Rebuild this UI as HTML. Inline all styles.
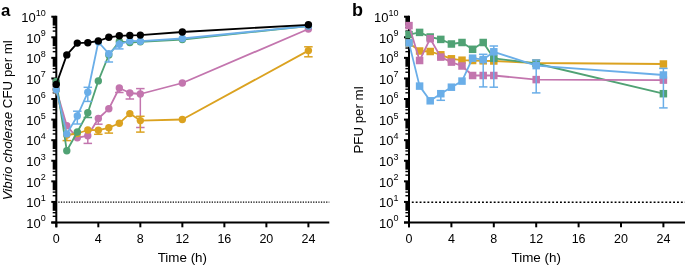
<!DOCTYPE html>
<html><head><meta charset="utf-8"><style>
html,body{margin:0;padding:0;background:#fff;width:685px;height:265px;overflow:hidden}
svg{display:block;filter:blur(0.35px)}
</style></head><body>
<svg width="685" height="265" viewBox="0 0 685 265" font-family='"Liberation Sans", sans-serif'>
<rect width="685" height="265" fill="#fff"/>
<line x1="56.3" y1="15.799999999999999" x2="56.3" y2="227.3" stroke="#000" stroke-width="2"/>
<line x1="51.3" y1="222.5" x2="329.3" y2="222.5" stroke="#000" stroke-width="2"/>
<line x1="51.3" y1="222.50" x2="56.3" y2="222.50" stroke="#000" stroke-width="2"/>
<line x1="52.699999999999996" y1="216.30" x2="56.3" y2="216.30" stroke="#000" stroke-width="1.4"/>
<line x1="52.699999999999996" y1="212.68" x2="56.3" y2="212.68" stroke="#000" stroke-width="1.4"/>
<rect x="52.70" y="202.16" width="3.6" height="8.65" fill="#000"/>
<line x1="51.3" y1="201.92" x2="56.3" y2="201.92" stroke="#000" stroke-width="2"/>
<line x1="52.699999999999996" y1="195.72" x2="56.3" y2="195.72" stroke="#000" stroke-width="1.4"/>
<line x1="52.699999999999996" y1="192.10" x2="56.3" y2="192.10" stroke="#000" stroke-width="1.4"/>
<rect x="52.70" y="181.58" width="3.6" height="8.65" fill="#000"/>
<line x1="51.3" y1="181.34" x2="56.3" y2="181.34" stroke="#000" stroke-width="2"/>
<line x1="52.699999999999996" y1="175.14" x2="56.3" y2="175.14" stroke="#000" stroke-width="1.4"/>
<line x1="52.699999999999996" y1="171.52" x2="56.3" y2="171.52" stroke="#000" stroke-width="1.4"/>
<rect x="52.70" y="161.00" width="3.6" height="8.65" fill="#000"/>
<line x1="51.3" y1="160.76" x2="56.3" y2="160.76" stroke="#000" stroke-width="2"/>
<line x1="52.699999999999996" y1="154.56" x2="56.3" y2="154.56" stroke="#000" stroke-width="1.4"/>
<line x1="52.699999999999996" y1="150.94" x2="56.3" y2="150.94" stroke="#000" stroke-width="1.4"/>
<rect x="52.70" y="140.42" width="3.6" height="8.65" fill="#000"/>
<line x1="51.3" y1="140.18" x2="56.3" y2="140.18" stroke="#000" stroke-width="2"/>
<line x1="52.699999999999996" y1="133.98" x2="56.3" y2="133.98" stroke="#000" stroke-width="1.4"/>
<line x1="52.699999999999996" y1="130.36" x2="56.3" y2="130.36" stroke="#000" stroke-width="1.4"/>
<rect x="52.70" y="119.84" width="3.6" height="8.65" fill="#000"/>
<line x1="51.3" y1="119.60" x2="56.3" y2="119.60" stroke="#000" stroke-width="2"/>
<line x1="52.699999999999996" y1="113.40" x2="56.3" y2="113.40" stroke="#000" stroke-width="1.4"/>
<line x1="52.699999999999996" y1="109.78" x2="56.3" y2="109.78" stroke="#000" stroke-width="1.4"/>
<rect x="52.70" y="99.26" width="3.6" height="8.65" fill="#000"/>
<line x1="51.3" y1="99.02" x2="56.3" y2="99.02" stroke="#000" stroke-width="2"/>
<line x1="52.699999999999996" y1="92.82" x2="56.3" y2="92.82" stroke="#000" stroke-width="1.4"/>
<line x1="52.699999999999996" y1="89.20" x2="56.3" y2="89.20" stroke="#000" stroke-width="1.4"/>
<rect x="52.70" y="78.68" width="3.6" height="8.65" fill="#000"/>
<line x1="51.3" y1="78.44" x2="56.3" y2="78.44" stroke="#000" stroke-width="2"/>
<line x1="52.699999999999996" y1="72.24" x2="56.3" y2="72.24" stroke="#000" stroke-width="1.4"/>
<line x1="52.699999999999996" y1="68.62" x2="56.3" y2="68.62" stroke="#000" stroke-width="1.4"/>
<rect x="52.70" y="58.10" width="3.6" height="8.65" fill="#000"/>
<line x1="51.3" y1="57.86" x2="56.3" y2="57.86" stroke="#000" stroke-width="2"/>
<line x1="52.699999999999996" y1="51.66" x2="56.3" y2="51.66" stroke="#000" stroke-width="1.4"/>
<line x1="52.699999999999996" y1="48.04" x2="56.3" y2="48.04" stroke="#000" stroke-width="1.4"/>
<rect x="52.70" y="37.52" width="3.6" height="8.65" fill="#000"/>
<line x1="51.3" y1="37.28" x2="56.3" y2="37.28" stroke="#000" stroke-width="2"/>
<line x1="52.699999999999996" y1="31.08" x2="56.3" y2="31.08" stroke="#000" stroke-width="1.4"/>
<line x1="52.699999999999996" y1="27.46" x2="56.3" y2="27.46" stroke="#000" stroke-width="1.4"/>
<rect x="52.70" y="16.94" width="3.6" height="8.65" fill="#000"/>
<line x1="51.3" y1="16.70" x2="56.3" y2="16.70" stroke="#000" stroke-width="2"/>
<line x1="56.30" y1="222.5" x2="56.30" y2="227.3" stroke="#000" stroke-width="2"/>
<text x="56.30" y="243.0" font-size="12.5" text-anchor="middle">0</text>
<line x1="98.32" y1="222.5" x2="98.32" y2="227.3" stroke="#000" stroke-width="2"/>
<text x="98.32" y="243.0" font-size="12.5" text-anchor="middle">4</text>
<line x1="140.33" y1="222.5" x2="140.33" y2="227.3" stroke="#000" stroke-width="2"/>
<text x="140.33" y="243.0" font-size="12.5" text-anchor="middle">8</text>
<line x1="182.35" y1="222.5" x2="182.35" y2="227.3" stroke="#000" stroke-width="2"/>
<text x="182.35" y="243.0" font-size="12.5" text-anchor="middle">12</text>
<line x1="224.37" y1="222.5" x2="224.37" y2="227.3" stroke="#000" stroke-width="2"/>
<text x="224.37" y="243.0" font-size="12.5" text-anchor="middle">16</text>
<line x1="266.38" y1="222.5" x2="266.38" y2="227.3" stroke="#000" stroke-width="2"/>
<text x="266.38" y="243.0" font-size="12.5" text-anchor="middle">20</text>
<line x1="308.40" y1="222.5" x2="308.40" y2="227.3" stroke="#000" stroke-width="2"/>
<text x="308.40" y="243.0" font-size="12.5" text-anchor="middle">24</text>
<text x="45.80" y="227.80" font-size="13" text-anchor="end">10<tspan font-size="9" dy="-6.4">0</tspan></text>
<text x="45.80" y="207.22" font-size="13" text-anchor="end">10<tspan font-size="9" dy="-6.4">1</tspan></text>
<text x="45.80" y="186.64" font-size="13" text-anchor="end">10<tspan font-size="9" dy="-6.4">2</tspan></text>
<text x="45.80" y="166.06" font-size="13" text-anchor="end">10<tspan font-size="9" dy="-6.4">3</tspan></text>
<text x="45.80" y="145.48" font-size="13" text-anchor="end">10<tspan font-size="9" dy="-6.4">4</tspan></text>
<text x="45.80" y="124.90" font-size="13" text-anchor="end">10<tspan font-size="9" dy="-6.4">5</tspan></text>
<text x="45.80" y="104.32" font-size="13" text-anchor="end">10<tspan font-size="9" dy="-6.4">6</tspan></text>
<text x="45.80" y="83.74" font-size="13" text-anchor="end">10<tspan font-size="9" dy="-6.4">7</tspan></text>
<text x="45.80" y="63.16" font-size="13" text-anchor="end">10<tspan font-size="9" dy="-6.4">8</tspan></text>
<text x="45.80" y="42.58" font-size="13" text-anchor="end">10<tspan font-size="9" dy="-6.4">9</tspan></text>
<text x="45.80" y="22.00" font-size="13" text-anchor="end">10<tspan font-size="9" dy="-6.4">10</tspan></text>
<line x1="58.3" y1="202.22" x2="329.3" y2="202.22" stroke="#000" stroke-width="1.2" stroke-dasharray="1.3 1.3"/>
<text x="182.35" y="261.5" font-size="13.4" text-anchor="middle">Time (h)</text>
<line x1="409.0" y1="15.799999999999999" x2="409.0" y2="227.3" stroke="#000" stroke-width="2"/>
<line x1="404.0" y1="222.5" x2="685" y2="222.5" stroke="#000" stroke-width="2"/>
<line x1="404.0" y1="222.50" x2="409.0" y2="222.50" stroke="#000" stroke-width="2"/>
<line x1="405.4" y1="216.30" x2="409.0" y2="216.30" stroke="#000" stroke-width="1.4"/>
<line x1="405.4" y1="212.68" x2="409.0" y2="212.68" stroke="#000" stroke-width="1.4"/>
<rect x="405.40" y="202.16" width="3.6" height="8.65" fill="#000"/>
<line x1="404.0" y1="201.92" x2="409.0" y2="201.92" stroke="#000" stroke-width="2"/>
<line x1="405.4" y1="195.72" x2="409.0" y2="195.72" stroke="#000" stroke-width="1.4"/>
<line x1="405.4" y1="192.10" x2="409.0" y2="192.10" stroke="#000" stroke-width="1.4"/>
<rect x="405.40" y="181.58" width="3.6" height="8.65" fill="#000"/>
<line x1="404.0" y1="181.34" x2="409.0" y2="181.34" stroke="#000" stroke-width="2"/>
<line x1="405.4" y1="175.14" x2="409.0" y2="175.14" stroke="#000" stroke-width="1.4"/>
<line x1="405.4" y1="171.52" x2="409.0" y2="171.52" stroke="#000" stroke-width="1.4"/>
<rect x="405.40" y="161.00" width="3.6" height="8.65" fill="#000"/>
<line x1="404.0" y1="160.76" x2="409.0" y2="160.76" stroke="#000" stroke-width="2"/>
<line x1="405.4" y1="154.56" x2="409.0" y2="154.56" stroke="#000" stroke-width="1.4"/>
<line x1="405.4" y1="150.94" x2="409.0" y2="150.94" stroke="#000" stroke-width="1.4"/>
<rect x="405.40" y="140.42" width="3.6" height="8.65" fill="#000"/>
<line x1="404.0" y1="140.18" x2="409.0" y2="140.18" stroke="#000" stroke-width="2"/>
<line x1="405.4" y1="133.98" x2="409.0" y2="133.98" stroke="#000" stroke-width="1.4"/>
<line x1="405.4" y1="130.36" x2="409.0" y2="130.36" stroke="#000" stroke-width="1.4"/>
<rect x="405.40" y="119.84" width="3.6" height="8.65" fill="#000"/>
<line x1="404.0" y1="119.60" x2="409.0" y2="119.60" stroke="#000" stroke-width="2"/>
<line x1="405.4" y1="113.40" x2="409.0" y2="113.40" stroke="#000" stroke-width="1.4"/>
<line x1="405.4" y1="109.78" x2="409.0" y2="109.78" stroke="#000" stroke-width="1.4"/>
<rect x="405.40" y="99.26" width="3.6" height="8.65" fill="#000"/>
<line x1="404.0" y1="99.02" x2="409.0" y2="99.02" stroke="#000" stroke-width="2"/>
<line x1="405.4" y1="92.82" x2="409.0" y2="92.82" stroke="#000" stroke-width="1.4"/>
<line x1="405.4" y1="89.20" x2="409.0" y2="89.20" stroke="#000" stroke-width="1.4"/>
<rect x="405.40" y="78.68" width="3.6" height="8.65" fill="#000"/>
<line x1="404.0" y1="78.44" x2="409.0" y2="78.44" stroke="#000" stroke-width="2"/>
<line x1="405.4" y1="72.24" x2="409.0" y2="72.24" stroke="#000" stroke-width="1.4"/>
<line x1="405.4" y1="68.62" x2="409.0" y2="68.62" stroke="#000" stroke-width="1.4"/>
<rect x="405.40" y="58.10" width="3.6" height="8.65" fill="#000"/>
<line x1="404.0" y1="57.86" x2="409.0" y2="57.86" stroke="#000" stroke-width="2"/>
<line x1="405.4" y1="51.66" x2="409.0" y2="51.66" stroke="#000" stroke-width="1.4"/>
<line x1="405.4" y1="48.04" x2="409.0" y2="48.04" stroke="#000" stroke-width="1.4"/>
<rect x="405.40" y="37.52" width="3.6" height="8.65" fill="#000"/>
<line x1="404.0" y1="37.28" x2="409.0" y2="37.28" stroke="#000" stroke-width="2"/>
<line x1="405.4" y1="31.08" x2="409.0" y2="31.08" stroke="#000" stroke-width="1.4"/>
<line x1="405.4" y1="27.46" x2="409.0" y2="27.46" stroke="#000" stroke-width="1.4"/>
<rect x="405.40" y="16.94" width="3.6" height="8.65" fill="#000"/>
<line x1="404.0" y1="16.70" x2="409.0" y2="16.70" stroke="#000" stroke-width="2"/>
<line x1="409.00" y1="222.5" x2="409.00" y2="227.3" stroke="#000" stroke-width="2"/>
<text x="409.00" y="243.0" font-size="12.5" text-anchor="middle">0</text>
<line x1="451.40" y1="222.5" x2="451.40" y2="227.3" stroke="#000" stroke-width="2"/>
<text x="451.40" y="243.0" font-size="12.5" text-anchor="middle">4</text>
<line x1="493.80" y1="222.5" x2="493.80" y2="227.3" stroke="#000" stroke-width="2"/>
<text x="493.80" y="243.0" font-size="12.5" text-anchor="middle">8</text>
<line x1="536.20" y1="222.5" x2="536.20" y2="227.3" stroke="#000" stroke-width="2"/>
<text x="536.20" y="243.0" font-size="12.5" text-anchor="middle">12</text>
<line x1="578.60" y1="222.5" x2="578.60" y2="227.3" stroke="#000" stroke-width="2"/>
<text x="578.60" y="243.0" font-size="12.5" text-anchor="middle">16</text>
<line x1="621.00" y1="222.5" x2="621.00" y2="227.3" stroke="#000" stroke-width="2"/>
<text x="621.00" y="243.0" font-size="12.5" text-anchor="middle">20</text>
<line x1="663.40" y1="222.5" x2="663.40" y2="227.3" stroke="#000" stroke-width="2"/>
<text x="663.40" y="243.0" font-size="12.5" text-anchor="middle">24</text>
<text x="398.50" y="227.80" font-size="13" text-anchor="end">10<tspan font-size="9" dy="-6.4">0</tspan></text>
<text x="398.50" y="207.22" font-size="13" text-anchor="end">10<tspan font-size="9" dy="-6.4">1</tspan></text>
<text x="398.50" y="186.64" font-size="13" text-anchor="end">10<tspan font-size="9" dy="-6.4">2</tspan></text>
<text x="398.50" y="166.06" font-size="13" text-anchor="end">10<tspan font-size="9" dy="-6.4">3</tspan></text>
<text x="398.50" y="145.48" font-size="13" text-anchor="end">10<tspan font-size="9" dy="-6.4">4</tspan></text>
<text x="398.50" y="124.90" font-size="13" text-anchor="end">10<tspan font-size="9" dy="-6.4">5</tspan></text>
<text x="398.50" y="104.32" font-size="13" text-anchor="end">10<tspan font-size="9" dy="-6.4">6</tspan></text>
<text x="398.50" y="83.74" font-size="13" text-anchor="end">10<tspan font-size="9" dy="-6.4">7</tspan></text>
<text x="398.50" y="63.16" font-size="13" text-anchor="end">10<tspan font-size="9" dy="-6.4">8</tspan></text>
<text x="398.50" y="42.58" font-size="13" text-anchor="end">10<tspan font-size="9" dy="-6.4">9</tspan></text>
<text x="398.50" y="22.00" font-size="13" text-anchor="end">10<tspan font-size="9" dy="-6.4">10</tspan></text>
<line x1="411.8" y1="202.32" x2="685" y2="202.32" stroke="#000" stroke-width="1.6" stroke-dasharray="1.9 2.0"/>
<text x="536.20" y="261.5" font-size="13.4" text-anchor="middle">Time (h)</text>
<text x="0.9" y="16.0" font-size="16.8" font-weight="bold">a</text>
<text x="352.0" y="16.1" font-size="18" font-weight="bold">b</text>
<text transform="translate(12.0,200.3) rotate(-90)" font-size="13.3"><tspan font-style="italic">Vibrio cholerae</tspan> CFU per ml</text>
<text transform="translate(363.4,153.6) rotate(-90)" font-size="13.3">PFU per ml</text>
<line x1="87.81" y1="135.70" x2="87.81" y2="143.40" stroke="#C375AE" stroke-width="1.5"/>
<line x1="83.56" y1="143.40" x2="92.06" y2="143.40" stroke="#C375AE" stroke-width="1.5"/>
<line x1="98.32" y1="118.50" x2="98.32" y2="124.20" stroke="#C375AE" stroke-width="1.5"/>
<line x1="94.07" y1="124.20" x2="102.57" y2="124.20" stroke="#C375AE" stroke-width="1.5"/>
<line x1="119.32" y1="88.00" x2="119.32" y2="92.50" stroke="#C375AE" stroke-width="1.5"/>
<line x1="115.07" y1="92.50" x2="123.57" y2="92.50" stroke="#C375AE" stroke-width="1.5"/>
<line x1="129.83" y1="93.00" x2="129.83" y2="99.00" stroke="#C375AE" stroke-width="1.5"/>
<line x1="125.58" y1="99.00" x2="134.08" y2="99.00" stroke="#C375AE" stroke-width="1.5"/>
<line x1="140.33" y1="88.60" x2="140.33" y2="127.50" stroke="#C375AE" stroke-width="1.5"/>
<line x1="136.08" y1="88.60" x2="144.58" y2="88.60" stroke="#C375AE" stroke-width="1.5"/>
<line x1="136.08" y1="127.50" x2="144.58" y2="127.50" stroke="#C375AE" stroke-width="1.5"/>
<polyline points="56.30,89.80 66.80,125.80 77.31,137.80 87.81,135.70 98.32,118.50 108.82,108.80 119.32,88.00 129.83,93.00 140.33,94.00 182.35,83.00 308.40,29.00" fill="none" stroke="#C375AE" stroke-width="1.8" stroke-linejoin="round"/>
<circle cx="56.30" cy="89.80" r="3.7" fill="#C375AE"/>
<circle cx="66.80" cy="125.80" r="3.7" fill="#C375AE"/>
<circle cx="77.31" cy="137.80" r="3.7" fill="#C375AE"/>
<circle cx="87.81" cy="135.70" r="3.7" fill="#C375AE"/>
<circle cx="98.32" cy="118.50" r="3.7" fill="#C375AE"/>
<circle cx="108.82" cy="108.80" r="3.7" fill="#C375AE"/>
<circle cx="119.32" cy="88.00" r="3.7" fill="#C375AE"/>
<circle cx="129.83" cy="93.00" r="3.7" fill="#C375AE"/>
<circle cx="140.33" cy="94.00" r="3.7" fill="#C375AE"/>
<circle cx="182.35" cy="83.00" r="3.7" fill="#C375AE"/>
<circle cx="308.40" cy="29.00" r="3.7" fill="#C375AE"/>
<line x1="66.80" y1="133.60" x2="66.80" y2="140.60" stroke="#DBA220" stroke-width="1.5"/>
<line x1="62.55" y1="140.60" x2="71.05" y2="140.60" stroke="#DBA220" stroke-width="1.5"/>
<line x1="98.32" y1="130.00" x2="98.32" y2="134.30" stroke="#DBA220" stroke-width="1.5"/>
<line x1="94.07" y1="134.30" x2="102.57" y2="134.30" stroke="#DBA220" stroke-width="1.5"/>
<line x1="108.82" y1="127.50" x2="108.82" y2="133.10" stroke="#DBA220" stroke-width="1.5"/>
<line x1="104.57" y1="133.10" x2="113.07" y2="133.10" stroke="#DBA220" stroke-width="1.5"/>
<line x1="140.33" y1="116.30" x2="140.33" y2="132.10" stroke="#DBA220" stroke-width="1.5"/>
<line x1="136.08" y1="116.30" x2="144.58" y2="116.30" stroke="#DBA220" stroke-width="1.5"/>
<line x1="136.08" y1="132.10" x2="144.58" y2="132.10" stroke="#DBA220" stroke-width="1.5"/>
<line x1="308.40" y1="46.80" x2="308.40" y2="56.80" stroke="#DBA220" stroke-width="1.5"/>
<line x1="304.15" y1="46.80" x2="312.65" y2="46.80" stroke="#DBA220" stroke-width="1.5"/>
<line x1="304.15" y1="56.80" x2="312.65" y2="56.80" stroke="#DBA220" stroke-width="1.5"/>
<polyline points="56.30,89.80 66.80,135.00 77.31,133.50 87.81,130.00 98.32,130.20 108.82,127.80 119.32,123.20 129.83,113.60 140.33,120.60 182.35,119.50 308.40,50.60" fill="none" stroke="#DBA220" stroke-width="1.8" stroke-linejoin="round"/>
<circle cx="56.30" cy="89.80" r="3.7" fill="#DBA220"/>
<circle cx="66.80" cy="135.00" r="3.7" fill="#DBA220"/>
<circle cx="77.31" cy="133.50" r="3.7" fill="#DBA220"/>
<circle cx="87.81" cy="130.00" r="3.7" fill="#DBA220"/>
<circle cx="98.32" cy="130.20" r="3.7" fill="#DBA220"/>
<circle cx="108.82" cy="127.80" r="3.7" fill="#DBA220"/>
<circle cx="119.32" cy="123.20" r="3.7" fill="#DBA220"/>
<circle cx="129.83" cy="113.60" r="3.7" fill="#DBA220"/>
<circle cx="140.33" cy="120.60" r="3.7" fill="#DBA220"/>
<circle cx="182.35" cy="119.50" r="3.7" fill="#DBA220"/>
<circle cx="308.40" cy="50.60" r="3.7" fill="#DBA220"/>
<line x1="87.81" y1="112.70" x2="87.81" y2="117.50" stroke="#50A274" stroke-width="1.5"/>
<line x1="83.56" y1="117.50" x2="92.06" y2="117.50" stroke="#50A274" stroke-width="1.5"/>
<polyline points="56.30,81.50 66.80,150.80 77.31,132.00 87.81,112.70 98.32,80.90 108.82,55.00 119.32,41.50 129.83,42.50 140.33,41.80 182.35,39.50 308.40,26.00" fill="none" stroke="#50A274" stroke-width="1.8" stroke-linejoin="round"/>
<circle cx="56.30" cy="81.50" r="3.7" fill="#50A274"/>
<circle cx="66.80" cy="150.80" r="3.7" fill="#50A274"/>
<circle cx="77.31" cy="132.00" r="3.7" fill="#50A274"/>
<circle cx="87.81" cy="112.70" r="3.7" fill="#50A274"/>
<circle cx="98.32" cy="80.90" r="3.7" fill="#50A274"/>
<circle cx="108.82" cy="55.00" r="3.7" fill="#50A274"/>
<circle cx="119.32" cy="41.50" r="3.7" fill="#50A274"/>
<circle cx="129.83" cy="42.50" r="3.7" fill="#50A274"/>
<circle cx="140.33" cy="41.80" r="3.7" fill="#50A274"/>
<circle cx="182.35" cy="39.50" r="3.7" fill="#50A274"/>
<circle cx="308.40" cy="26.00" r="3.7" fill="#50A274"/>
<line x1="77.31" y1="111.20" x2="77.31" y2="124.00" stroke="#6AAEE8" stroke-width="1.5"/>
<line x1="73.06" y1="111.20" x2="81.56" y2="111.20" stroke="#6AAEE8" stroke-width="1.5"/>
<line x1="73.06" y1="124.00" x2="81.56" y2="124.00" stroke="#6AAEE8" stroke-width="1.5"/>
<line x1="87.81" y1="87.30" x2="87.81" y2="101.40" stroke="#6AAEE8" stroke-width="1.5"/>
<line x1="83.56" y1="87.30" x2="92.06" y2="87.30" stroke="#6AAEE8" stroke-width="1.5"/>
<line x1="83.56" y1="101.40" x2="92.06" y2="101.40" stroke="#6AAEE8" stroke-width="1.5"/>
<line x1="108.82" y1="53.70" x2="108.82" y2="62.00" stroke="#6AAEE8" stroke-width="1.5"/>
<line x1="104.57" y1="62.00" x2="113.07" y2="62.00" stroke="#6AAEE8" stroke-width="1.5"/>
<line x1="119.32" y1="40.00" x2="119.32" y2="48.90" stroke="#6AAEE8" stroke-width="1.5"/>
<line x1="115.07" y1="48.90" x2="123.57" y2="48.90" stroke="#6AAEE8" stroke-width="1.5"/>
<polyline points="56.30,89.80 66.80,133.90 77.31,116.00 87.81,92.30 98.32,42.00 108.82,53.70 119.32,44.20 129.83,41.00 140.33,41.20 182.35,38.50 308.40,26.00" fill="none" stroke="#6AAEE8" stroke-width="1.8" stroke-linejoin="round"/>
<circle cx="56.30" cy="89.80" r="3.7" fill="#6AAEE8"/>
<circle cx="66.80" cy="133.90" r="3.7" fill="#6AAEE8"/>
<circle cx="77.31" cy="116.00" r="3.7" fill="#6AAEE8"/>
<circle cx="87.81" cy="92.30" r="3.7" fill="#6AAEE8"/>
<circle cx="98.32" cy="42.00" r="3.7" fill="#6AAEE8"/>
<circle cx="108.82" cy="53.70" r="3.7" fill="#6AAEE8"/>
<circle cx="119.32" cy="44.20" r="3.7" fill="#6AAEE8"/>
<circle cx="129.83" cy="41.00" r="3.7" fill="#6AAEE8"/>
<circle cx="140.33" cy="41.20" r="3.7" fill="#6AAEE8"/>
<circle cx="182.35" cy="38.50" r="3.7" fill="#6AAEE8"/>
<circle cx="308.40" cy="26.00" r="3.7" fill="#6AAEE8"/>
<polyline points="56.30,84.40 66.80,54.90 77.31,43.10 87.81,42.70 98.32,41.00 108.82,37.30 119.32,35.80 129.83,35.40 140.33,35.10 182.35,32.00 308.40,24.80" fill="none" stroke="#000000" stroke-width="1.8" stroke-linejoin="round"/>
<circle cx="56.30" cy="84.40" r="3.7" fill="#000000"/>
<circle cx="66.80" cy="54.90" r="3.7" fill="#000000"/>
<circle cx="77.31" cy="43.10" r="3.7" fill="#000000"/>
<circle cx="87.81" cy="42.70" r="3.7" fill="#000000"/>
<circle cx="98.32" cy="41.00" r="3.7" fill="#000000"/>
<circle cx="108.82" cy="37.30" r="3.7" fill="#000000"/>
<circle cx="119.32" cy="35.80" r="3.7" fill="#000000"/>
<circle cx="129.83" cy="35.40" r="3.7" fill="#000000"/>
<circle cx="140.33" cy="35.10" r="3.7" fill="#000000"/>
<circle cx="182.35" cy="32.00" r="3.7" fill="#000000"/>
<circle cx="308.40" cy="24.80" r="3.7" fill="#000000"/>
<polyline points="409.00,43.00 419.60,51.00 430.20,51.50 440.80,54.80 451.40,58.80 462.00,60.20 472.60,60.50 483.20,60.80 493.80,61.00 536.20,63.00 663.40,64.00" fill="none" stroke="#DBA220" stroke-width="1.8" stroke-linejoin="round"/>
<rect x="405.25" y="39.25" width="7.5" height="7.5" fill="#DBA220"/>
<rect x="415.85" y="47.25" width="7.5" height="7.5" fill="#DBA220"/>
<rect x="426.45" y="47.75" width="7.5" height="7.5" fill="#DBA220"/>
<rect x="437.05" y="51.05" width="7.5" height="7.5" fill="#DBA220"/>
<rect x="447.65" y="55.05" width="7.5" height="7.5" fill="#DBA220"/>
<rect x="458.25" y="56.45" width="7.5" height="7.5" fill="#DBA220"/>
<rect x="468.85" y="56.75" width="7.5" height="7.5" fill="#DBA220"/>
<rect x="479.45" y="57.05" width="7.5" height="7.5" fill="#DBA220"/>
<rect x="490.05" y="57.25" width="7.5" height="7.5" fill="#DBA220"/>
<rect x="532.45" y="59.25" width="7.5" height="7.5" fill="#DBA220"/>
<rect x="659.65" y="60.25" width="7.5" height="7.5" fill="#DBA220"/>
<polyline points="409.00,34.60 419.60,32.40 430.20,37.00 440.80,39.40 451.40,44.00 462.00,42.50 472.60,49.30 483.20,42.50 493.80,58.30 536.20,63.50 663.40,93.70" fill="none" stroke="#50A274" stroke-width="1.8" stroke-linejoin="round"/>
<rect x="405.25" y="30.85" width="7.5" height="7.5" fill="#50A274"/>
<rect x="415.85" y="28.65" width="7.5" height="7.5" fill="#50A274"/>
<rect x="426.45" y="33.25" width="7.5" height="7.5" fill="#50A274"/>
<rect x="437.05" y="35.65" width="7.5" height="7.5" fill="#50A274"/>
<rect x="447.65" y="40.25" width="7.5" height="7.5" fill="#50A274"/>
<rect x="458.25" y="38.75" width="7.5" height="7.5" fill="#50A274"/>
<rect x="468.85" y="45.55" width="7.5" height="7.5" fill="#50A274"/>
<rect x="479.45" y="38.75" width="7.5" height="7.5" fill="#50A274"/>
<rect x="490.05" y="54.55" width="7.5" height="7.5" fill="#50A274"/>
<rect x="532.45" y="59.75" width="7.5" height="7.5" fill="#50A274"/>
<rect x="659.65" y="89.95" width="7.5" height="7.5" fill="#50A274"/>
<polyline points="409.00,25.60 419.60,60.50 430.20,38.70 440.80,57.10 451.40,62.10 462.00,66.00 472.60,75.50 483.20,75.50 493.80,75.50 536.20,79.60 663.40,80.10" fill="none" stroke="#C375AE" stroke-width="1.8" stroke-linejoin="round"/>
<rect x="405.25" y="21.85" width="7.5" height="7.5" fill="#C375AE"/>
<rect x="415.85" y="56.75" width="7.5" height="7.5" fill="#C375AE"/>
<rect x="426.45" y="34.95" width="7.5" height="7.5" fill="#C375AE"/>
<rect x="437.05" y="53.35" width="7.5" height="7.5" fill="#C375AE"/>
<rect x="447.65" y="58.35" width="7.5" height="7.5" fill="#C375AE"/>
<rect x="458.25" y="62.25" width="7.5" height="7.5" fill="#C375AE"/>
<rect x="468.85" y="71.75" width="7.5" height="7.5" fill="#C375AE"/>
<rect x="479.45" y="71.75" width="7.5" height="7.5" fill="#C375AE"/>
<rect x="490.05" y="71.75" width="7.5" height="7.5" fill="#C375AE"/>
<rect x="532.45" y="75.85" width="7.5" height="7.5" fill="#C375AE"/>
<rect x="659.65" y="76.35" width="7.5" height="7.5" fill="#C375AE"/>
<line x1="440.80" y1="93.70" x2="440.80" y2="100.30" stroke="#6AAEE8" stroke-width="1.5"/>
<line x1="436.55" y1="100.30" x2="445.05" y2="100.30" stroke="#6AAEE8" stroke-width="1.5"/>
<line x1="483.20" y1="54.30" x2="483.20" y2="86.90" stroke="#6AAEE8" stroke-width="1.5"/>
<line x1="478.95" y1="54.30" x2="487.45" y2="54.30" stroke="#6AAEE8" stroke-width="1.5"/>
<line x1="478.95" y1="86.90" x2="487.45" y2="86.90" stroke="#6AAEE8" stroke-width="1.5"/>
<line x1="493.80" y1="46.00" x2="493.80" y2="87.20" stroke="#6AAEE8" stroke-width="1.5"/>
<line x1="489.55" y1="46.00" x2="498.05" y2="46.00" stroke="#6AAEE8" stroke-width="1.5"/>
<line x1="489.55" y1="87.20" x2="498.05" y2="87.20" stroke="#6AAEE8" stroke-width="1.5"/>
<line x1="536.20" y1="60.00" x2="536.20" y2="92.90" stroke="#6AAEE8" stroke-width="1.5"/>
<line x1="531.95" y1="60.00" x2="540.45" y2="60.00" stroke="#6AAEE8" stroke-width="1.5"/>
<line x1="531.95" y1="92.90" x2="540.45" y2="92.90" stroke="#6AAEE8" stroke-width="1.5"/>
<line x1="663.40" y1="68.40" x2="663.40" y2="107.90" stroke="#6AAEE8" stroke-width="1.5"/>
<line x1="659.15" y1="68.40" x2="667.65" y2="68.40" stroke="#6AAEE8" stroke-width="1.5"/>
<line x1="659.15" y1="107.90" x2="667.65" y2="107.90" stroke="#6AAEE8" stroke-width="1.5"/>
<polyline points="409.00,42.90 419.60,86.10 430.20,100.80 440.80,93.70 451.40,87.20 462.00,81.10 472.60,58.20 483.20,59.60 493.80,51.80 536.20,65.60 663.40,75.00" fill="none" stroke="#6AAEE8" stroke-width="1.8" stroke-linejoin="round"/>
<rect x="405.25" y="39.15" width="7.5" height="7.5" fill="#6AAEE8"/>
<rect x="415.85" y="82.35" width="7.5" height="7.5" fill="#6AAEE8"/>
<rect x="426.45" y="97.05" width="7.5" height="7.5" fill="#6AAEE8"/>
<rect x="437.05" y="89.95" width="7.5" height="7.5" fill="#6AAEE8"/>
<rect x="447.65" y="83.45" width="7.5" height="7.5" fill="#6AAEE8"/>
<rect x="458.25" y="77.35" width="7.5" height="7.5" fill="#6AAEE8"/>
<rect x="468.85" y="54.45" width="7.5" height="7.5" fill="#6AAEE8"/>
<rect x="479.45" y="55.85" width="7.5" height="7.5" fill="#6AAEE8"/>
<rect x="490.05" y="48.05" width="7.5" height="7.5" fill="#6AAEE8"/>
<rect x="532.45" y="61.85" width="7.5" height="7.5" fill="#6AAEE8"/>
<rect x="659.65" y="71.25" width="7.5" height="7.5" fill="#6AAEE8"/>
</svg>
</body></html>
